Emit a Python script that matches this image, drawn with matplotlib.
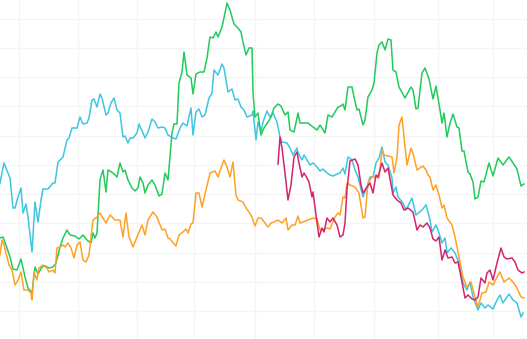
import matplotlib
matplotlib.use("Agg")
import matplotlib.pyplot as plt

# data (t = time step, v = level)
cyan_t = [0, 2, 4, 5, 6.5, 7.5, 9, 10.5, 11.5, 13, 14, 16, 17.5, 19, 20.5, 21.5, 24, 26.5, 27.5, 29,
          31.5, 33.5, 34.5, 36, 38.5, 40, 41.5, 43.5, 44.5, 46, 47, 48.5, 50, 51, 53, 54, 55.5, 57, 58.5, 60,
          61.5, 62.5, 64, 65, 66.5, 68.5, 69.5, 71.5, 72.5, 74, 76, 77.5, 79, 81, 82.5, 84, 86.5, 88, 90, 91.5,
          93.5, 95.5, 96.5, 98, 99.5, 101, 102.5, 104.5, 106, 107, 109, 111, 112, 114, 116, 117.5, 119, 120.5, 122, 123.5,
          126, 126.5, 128, 129, 130.5, 131.5, 133.5, 135, 136.5, 138.5, 140, 141, 143.5, 145, 146.5, 148.5, 149, 151, 152, 153.5,
          155, 156.5, 158.5, 160, 161.5, 163.5, 165, 166.5, 168.5, 170, 171.5, 172.5, 174, 176, 177.5, 179, 181.5, 183.5, 185, 186.5,
          188, 189.5, 191, 192.5, 194, 196, 196.5, 198, 199, 201.5, 203, 206, 208, 211, 213, 215, 216, 218, 219.5, 221,
          222.5, 223.5, 225.5, 227.5, 229.5, 231.5, 233.5, 235, 236.5, 239, 240.5, 242.5, 244, 246.5, 248.5, 250, 251.5, 254.5, 256.5, 258.5,
          260.5, 261.5]
cyan_v = [156, 176, 166, 161, 131, 131, 142, 151, 126, 135, 122, 87, 137, 117, 139, 150, 150, 156, 156, 177,
          182, 199, 201, 211, 211, 222, 215, 216, 221, 239, 240, 232, 245, 241, 224, 226, 236, 241, 229, 226,
          202, 203, 196, 201, 201, 206, 215, 206, 201, 207, 220, 217, 211, 212, 211, 204, 201, 200, 211, 216,
          213, 231, 204, 227, 230, 222, 224, 241, 246, 269, 264, 275, 271, 247, 250, 239, 240, 232, 229, 222,
          224, 228, 199, 217, 207, 217, 228, 222, 226, 217, 202, 197, 196, 191, 184, 191, 186, 179, 184, 179,
          174, 176, 172, 168, 170, 166, 164, 163, 165, 166, 171, 165, 182, 179, 169, 162, 142, 152, 162, 162,
          176, 181, 192, 177, 174, 161, 146, 152, 142, 136, 129, 141, 124, 129, 134, 119, 107, 114, 106, 96,
          101, 86, 91, 86, 76, 56, 49, 57, 42, 29, 36, 31, 34, 30, 39, 44, 36, 45, 39, 36,
          22, 26]

green_t = [0, 1.5, 3.5, 5, 6.5, 8.5, 10.5, 12.5, 14, 16, 17.5, 19, 21, 22.5, 24.5, 26.5, 28, 30, 31.5, 33.5,
           35, 37.5, 39.5, 41.5, 43.5, 45.5, 46.5, 47.5, 48.5, 50, 51.5, 53, 54, 56.5, 58.5, 60, 61.5, 62.5, 64, 66,
           67.5, 69, 70, 71.5, 72.5, 74, 76, 77.5, 79.5, 81, 82.5, 84, 85, 86, 87, 88.5, 89.5, 91, 92, 93.5,
           95.5, 96.5, 98, 100, 102, 103.5, 105, 106.5, 108, 109, 111, 112.5, 113.5, 115, 117, 119, 120.5, 121.5, 123, 124.5,
           126, 126.5, 127.5, 129, 130.5, 132, 134, 135.5, 137, 139, 140.5, 142.5, 144, 145, 147, 149, 150, 151.5, 154, 156.5,
           158.5, 160, 162.5, 164, 166, 167.5, 169, 170.5, 171.5, 172.5, 174, 176, 177, 178.5, 179.5, 181.5, 182.5, 184, 186, 187,
           188.5, 189.5, 191, 192.5, 194, 195.5, 196.5, 198, 199.5, 202.5, 205.5, 206.5, 208, 209, 211, 212.5, 214.5, 216.5, 218, 220,
           221, 222, 223.5, 225, 226.5, 228.5, 229.5, 231, 232, 234, 235, 236.5, 237.5, 239, 240.5, 242, 244.5, 246.5, 249, 251.5,
           254.5, 257.5, 258.5, 260.5, 262]
green_v = [101, 102, 91, 82, 70, 69, 80, 62, 51, 46, 72, 65, 72, 73, 71, 72, 76, 92, 101, 109,
           104, 103, 100, 104, 99, 96, 106, 101, 106, 159, 169, 147, 169, 166, 162, 176, 167, 169, 159, 151,
           148, 151, 162, 156, 146, 154, 159, 154, 143, 145, 166, 159, 182, 206, 215, 215, 256, 267, 287, 264,
           261, 245, 265, 267, 267, 281, 302, 301, 307, 302, 312, 326, 336, 329, 315, 311, 307, 297, 284, 291,
           291, 246, 222, 226, 204, 211, 217, 222, 231, 235, 233, 224, 227, 209, 207, 226, 216, 216, 216, 212,
           209, 214, 206, 224, 222, 227, 232, 233, 235, 229, 252, 252, 242, 229, 230, 214, 219, 242, 249, 256,
           286, 294, 297, 289, 300, 299, 269, 267, 252, 241, 252, 249, 230, 231, 266, 271, 260, 240, 253, 229,
           216, 226, 202, 216, 225, 212, 211, 188, 188, 167, 165, 157, 140, 142, 158, 157, 176, 163, 181, 174,
           182, 173, 170, 153, 155]

orange_t = [0, 1, 2, 3.5, 4.5, 6, 7.5, 9, 10.5, 12, 14, 15.5, 16, 17, 18.5, 19.5, 21.5, 23.5, 24.5, 26.5,
            27.5, 28.5, 30, 31.5, 32.5, 34, 35.5, 37, 38.5, 40, 41.5, 43, 44.5, 46.5, 48.5, 50, 53, 55, 57.5, 60,
            61.5, 63, 64.5, 66.5, 68.5, 71, 72.5, 74, 76.5, 78.5, 81, 82.5, 84, 85, 88, 89.5, 91.5, 93, 94, 95.5,
            96.5, 98, 99.5, 101, 103, 105, 107.5, 109, 111, 112, 113.5, 115, 116.5, 118, 119, 121.5, 123, 124.5, 126, 127.5,
            129, 130.5, 132.5, 134, 135.5, 137, 139, 141, 143, 144, 146, 147.5, 149, 150, 151.5, 154, 156.5, 158.5, 160, 161.5,
            163.5, 165, 167.5, 169, 170, 171.5, 172.5, 173.5, 175, 177.5, 179.5, 181.5, 182.5, 184, 186, 187.5, 189.5, 191, 192, 194,
            196, 197, 198.5, 199.5, 201, 202.5, 203.5, 205.5, 206.5, 208.5, 210, 211.5, 213, 214, 215, 216.5, 218, 219.5, 221, 222,
            223.5, 226, 227.5, 229.5, 231.5, 233.5, 235.5, 237.5, 239, 241, 243, 244.5, 246.5, 248.5, 250, 252, 254.5, 256.5, 258.5, 260.5,
            262]
orange_v = [84, 99, 94, 82, 74, 69, 54, 59, 67, 49, 49, 46, 39, 67, 59, 71, 74, 71, 67, 69,
            66, 91, 92, 94, 92, 96, 91, 81, 94, 97, 79, 77, 84, 119, 122, 126, 116, 124, 119, 119,
            102, 126, 102, 92, 102, 114, 104, 119, 127, 122, 109, 110, 101, 100, 93, 104, 107, 110, 106, 115,
            116, 146, 146, 132, 149, 166, 168, 162, 174, 179, 172, 162, 177, 144, 139, 137, 131, 127, 122, 113,
            121, 121, 116, 112, 116, 117, 119, 116, 121, 109, 114, 114, 123, 116, 117, 119, 121, 120, 109, 109,
            111, 110, 122, 126, 124, 142, 141, 156, 154, 152, 146, 121, 122, 156, 162, 162, 161, 189, 184, 183,
            182, 166, 182, 214, 222, 192, 174, 191, 186, 169, 171, 173, 169, 164, 162, 149, 154, 144, 131, 134,
            121, 114, 102, 82, 62, 52, 57, 42, 32, 46, 47, 57, 54, 62, 67, 57, 61, 57, 51, 42,
            41]

crimson_t = [139, 140, 141, 142.5, 144, 145.5, 147, 148.5, 149.5, 151, 152, 153.5, 154.5, 156, 156.5, 158, 159.5, 161, 162, 163.5,
             165, 166.5, 168.5, 170, 171.5, 172.5, 173.5, 175, 177.5, 179, 180.5, 181.5, 183.5, 185, 186.5, 188, 189, 191, 192.5, 194,
             196.5, 198.5, 200.5, 202, 204, 206.5, 208.5, 210, 211.5, 213.5, 215, 216.5, 218, 219.5, 221, 222.5, 224, 226, 227.5, 229,
             231, 232.5, 234, 236, 237.5, 239, 240.5, 242.5, 243.5, 245, 246.5, 248.5, 250.5, 252, 253.5, 256, 257.5, 259, 261, 262]
crimson_v = [175, 202, 191, 166, 139, 154, 182, 187, 176, 162, 166, 161, 157, 142, 147, 124, 102, 111, 107, 121,
             117, 121, 114, 102, 104, 116, 149, 178, 180, 174, 154, 146, 152, 156, 146, 164, 162, 176, 167, 171,
             144, 139, 136, 129, 131, 127, 109, 114, 112, 116, 111, 100, 98, 102, 79, 89, 81, 82, 76, 77,
             57, 41, 44, 40, 39, 42, 61, 56, 66, 69, 59, 76, 91, 82, 80, 81, 77, 69, 66, 67]

x_grid = [9.35, 38.85, 68.35, 96.85, 127.65, 157.15, 187.15, 219.15, 246.35]
y_grid = [28 + 29.25 * k for k in range(11)]

fig = plt.figure(figsize=(5.27, 3.39), dpi=100)
ax = fig.add_axes([0, 0, 1, 1])

ax.plot(cyan_t, cyan_v, color='#3ec6e2', linewidth=1.1)
ax.plot(green_t, green_v, color='#22cb5c', linewidth=1.1)
ax.plot(orange_t, orange_v, color='#ffa124', linewidth=1.1)
ax.plot(crimson_t, crimson_v, color='#d3256f', linewidth=1.1)

ax.set_xlim(0, 263.5)
ax.set_ylim(0, 339)
ax.set_xticks(x_grid)
ax.set_yticks(y_grid)
ax.tick_params(length=0, labelbottom=False, labelleft=False)
ax.grid(True, color='#f4f4f4', linewidth=0.9)
ax.set_axisbelow(True)
for s in ax.spines.values():
    s.set_visible(False)

fig.savefig("out.png", dpi=100)
